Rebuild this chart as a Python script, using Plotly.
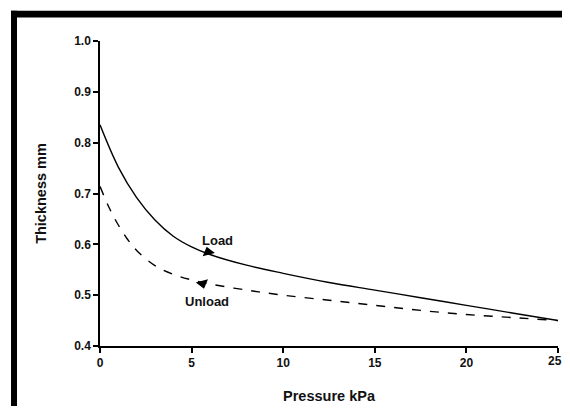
import plotly.graph_objects as go

pressure_load = [0, 1, 2, 3, 4, 5, 6, 8, 10, 12.5, 15, 17.5, 20, 22.5, 25]
thickness_load = [0.835, 0.752, 0.692, 0.648, 0.616, 0.595, 0.58, 0.559, 0.543, 0.525, 0.51, 0.495, 0.48, 0.465, 0.45]

pressure_unload = [0, 0.5, 1, 1.5, 2, 3, 4, 5, 6, 8, 10, 12.5, 15, 17.5, 20, 22.5, 25]
thickness_unload = [0.714, 0.672, 0.638, 0.61, 0.588, 0.558, 0.541, 0.53, 0.522, 0.51, 0.5, 0.49, 0.48, 0.47, 0.462, 0.456, 0.45]

arrow_x = [5.9, 5.6]
arrow_y = [0.585, 0.523]
label_text = ["Load", "Unload"]
label_x = [6.4, 5.85]
label_y = [0.608, 0.488]

x_ticks = [0, 5, 10, 15, 20, 25]
x_tick_labels = ["0", "5", "10", "15", "20", "25"]
y_ticks = [0.4, 0.5, 0.6, 0.7, 0.8, 0.9, 1.0]

font_family = "Liberation Sans, Arial, sans-serif"

fig = go.Figure()
fig.add_trace(go.Scatter(x=pressure_load, y=thickness_load, mode="lines",
                         line=dict(color="black", width=1.4, shape="spline"),
                         showlegend=False, hoverinfo="skip"))
fig.add_trace(go.Scatter(x=pressure_unload, y=thickness_unload, mode="lines",
                         line=dict(color="black", width=1.4, dash="dash", shape="spline"),
                         showlegend=False, hoverinfo="skip"))
fig.add_trace(go.Scatter(x=[arrow_x[0]], y=[arrow_y[0]], mode="markers",
                         marker=dict(symbol="triangle-up", size=11, color="black", angle=-15),
                         showlegend=False, hoverinfo="skip"))
fig.add_trace(go.Scatter(x=[arrow_x[1]], y=[arrow_y[1]], mode="markers",
                         marker=dict(symbol="triangle-down", size=11, color="black", angle=-15),
                         showlegend=False, hoverinfo="skip"))

for t, x, y in zip(label_text, label_x, label_y):
    fig.add_annotation(x=x, y=y, text="<b>%s</b>" % t, showarrow=False,
                       font=dict(family=font_family, size=13, color="#111"))

# last x tick label drawn as annotation so it stays inside the page edge
fig.add_annotation(x=x_ticks[-1], y=0, xref="x", yref="paper", yanchor="top", yshift=-6, xshift=-3,
                   text="<b>%s</b>" % x_tick_labels[-1], showarrow=False,
                   font=dict(family=font_family, size=12, color="#111"))

# frame bars (top and left)
fig.add_shape(type="rect", xref="paper", yref="paper", x0=-0.1943, x1=1.05, y0=1.0767, y1=1.099,
              fillcolor="black", line=dict(width=0), layer="above")
fig.add_shape(type="rect", xref="paper", yref="paper", x0=-0.1943, x1=-0.1812, y0=-0.25, y1=1.099,
              fillcolor="black", line=dict(width=0), layer="above")

x_text = ["<b>%s</b>" % s for s in x_tick_labels]
x_text[-1] = ""

fig.update_layout(
    width=554, height=398,
    margin=dict(l=92, r=4, t=33, b=52),
    paper_bgcolor="white", plot_bgcolor="white",
    font=dict(family=font_family, color="#111"),
    xaxis=dict(range=[0, 25], tickvals=x_ticks, ticktext=x_text,
               showgrid=False, zeroline=False, showline=True, linecolor="black", linewidth=1.5,
               ticks="outside", ticklen=5, tickwidth=1.5, tickcolor="black",
               tickfont=dict(size=12),
               title=dict(text="<b>Pressure kPa</b>", font=dict(size=14.5), standoff=22)),
    yaxis=dict(range=[0.4, 1.0], tickvals=y_ticks, ticktext=["<b>%.1f</b>" % v for v in y_ticks],
               showgrid=False, zeroline=False, showline=True, linecolor="black", linewidth=1.5,
               ticks="outside", ticklen=5, tickwidth=1.5, tickcolor="black",
               tickfont=dict(size=12),
               title=dict(text="<b>Thickness mm</b>", font=dict(size=14.5), standoff=24)),
)

fig.write_html("out.html", config={"displayModeBar": False})
